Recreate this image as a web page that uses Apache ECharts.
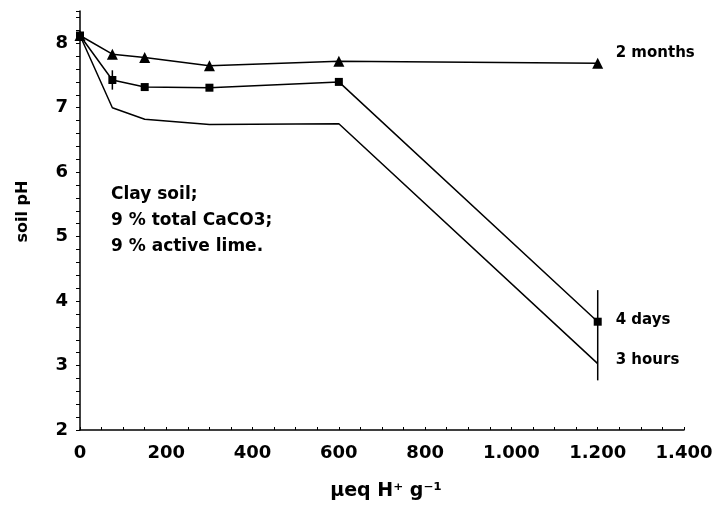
<!DOCTYPE html>
<html>
<head>
<meta charset="utf-8">
<script src="https://cdn.jsdelivr.net/npm/echarts@6/dist/echarts.min.js"></script>
<style>
  html, body { margin: 0; padding: 0; background: #fff; }
  #chart { width: 724px; height: 509px; }
</style>
</head>
<body>
<div id="chart"></div>
<script>
// Acid additions (µeq H+ per g soil)
var doses = [0, 75, 150, 300, 600, 1200];

// Soil pH after each incubation time
var ph2months = [8.12, 7.83, 7.78, 7.65, 7.72, 7.69];
var ph4days   = [8.12, 7.43, 7.32, 7.31, 7.40, 3.68];
var ph3hours  = [8.12, 7.00, 6.82, 6.74, 6.75, 3.03];

// Vertical spread bars: [dose, low pH, high pH]
var spreadBars = [
  [75, 7.28, 7.58],
  [1200, 2.77, 4.17]
];

// Series end labels
var seriesNames = ['2 months', '4 days', '3 hours'];

// Text block inside the plot
var noteLines = ['Clay soil;', '9 % total CaCO3;', '9 % active lime.'];

var FONT = 'DejaVu Sans';

function pairs(xs, ys) {
  return xs.map(function (x, i) { return [x, ys[i]]; });
}

function thousands(v) {
  if (v >= 1000) {
    var s = String(v);
    return s.slice(0, s.length - 3) + '.' + s.slice(s.length - 3);
  }
  return String(v);
}

var chart = echarts.init(document.getElementById('chart'), null, { renderer: 'canvas' });

var lineBase = {
  type: 'line',
  lineStyle: { color: '#000', width: 1.5 },
  itemStyle: { color: '#000' },
  animation: false,
  z: 3
};

chart.setOption({
  backgroundColor: '#fff',
  animation: false,
  grid: { left: 80, right: 40, top: 11, bottom: 79 },
  xAxis: {
    type: 'value',
    min: 0,
    max: 1400,
    interval: 50,
    name: 'μeq H⁺ g⁻¹',
    nameLocation: 'middle',
    nameGap: 52,
    nameTextStyle: { fontFamily: FONT, fontWeight: 'bold', fontSize: 19, color: '#000', padding: [0, 0, 0, 8] },
    axisLine: { lineStyle: { color: '#000', width: 1.5 } },
    axisTick: { inside: true, length: 3, lineStyle: { color: '#000' } },
    splitLine: { show: false },
    axisLabel: {
      margin: 14,
      fontFamily: FONT,
      fontWeight: 'bold',
      fontSize: 18,
      color: '#000',
      formatter: function (v) { return v % 200 === 0 ? thousands(v) : ''; }
    }
  },
  yAxis: {
    type: 'value',
    min: 2,
    max: 8.5,
    interval: 0.2,
    name: 'soil pH',
    nameLocation: 'middle',
    nameGap: 49,
    nameTextStyle: { fontFamily: FONT, fontWeight: 'bold', fontSize: 16, color: '#000', padding: [0, 0, 0, 18] },
    axisLine: { lineStyle: { color: '#000', width: 1.5 } },
    axisTick: { length: 4, lineStyle: { color: '#000' } },
    splitLine: { show: false },
    axisLabel: {
      margin: 12,
      fontFamily: FONT,
      fontWeight: 'bold',
      fontSize: 18,
      color: '#000',
      formatter: function (v) {
        var r = Math.round(v);
        return Math.abs(v - r) < 1e-6 ? String(r) : '';
      }
    }
  },
  series: [
    Object.assign({}, lineBase, {
      name: seriesNames[2],
      data: pairs(doses, ph3hours),
      showSymbol: false,
      symbol: 'none',
      endLabel: {
        show: true,
        formatter: seriesNames[2],
        fontFamily: FONT, fontWeight: 'bold', fontSize: 15, color: '#000',
        distance: 18, offset: [0, -3]
      }
    }),
    Object.assign({}, lineBase, {
      name: seriesNames[0],
      data: pairs(doses, ph2months),
      symbol: 'triangle',
      symbolSize: 11,
      endLabel: {
        show: true,
        formatter: seriesNames[0],
        fontFamily: FONT, fontWeight: 'bold', fontSize: 15, color: '#000',
        distance: 18, offset: [0, -10]
      }
    }),
    Object.assign({}, lineBase, {
      name: seriesNames[1],
      data: pairs(doses, ph4days),
      symbol: 'rect',
      symbolSize: 8,
      endLabel: {
        show: true,
        formatter: seriesNames[1],
        fontFamily: FONT, fontWeight: 'bold', fontSize: 15, color: '#000',
        distance: 18, offset: [0, -2]
      }
    }),
    {
      type: 'custom',
      data: spreadBars,
      z: 2,
      renderItem: function (params, api) {
        var top = api.coord([api.value(0), api.value(2)]);
        var bot = api.coord([api.value(0), api.value(1)]);
        return {
          type: 'line',
          shape: { x1: top[0], y1: top[1], x2: bot[0], y2: bot[1] },
          style: { stroke: '#000', lineWidth: 1.5 }
        };
      }
    }
  ],
  graphic: noteLines.map(function (t, i) {
    return {
      type: 'text',
      left: 111,
      top: 186 + i * 26,
      style: { text: t, fontFamily: FONT, fontWeight: 'bold', fontSize: 17, fill: '#000' }
    };
  })
});
</script>
</body>
</html>
